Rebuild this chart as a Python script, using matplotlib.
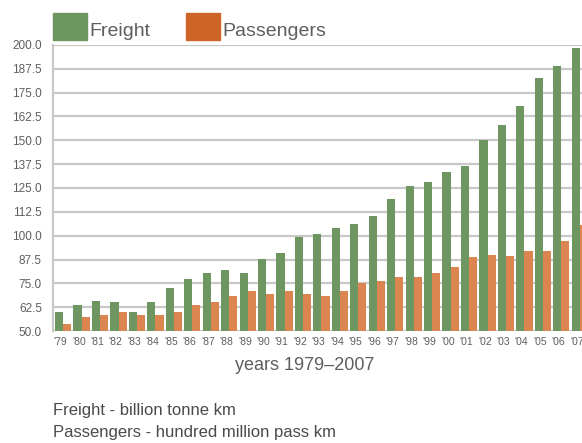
import matplotlib
matplotlib.use("Agg")
import matplotlib.pyplot as plt
from matplotlib.patches import Rectangle

# data
years = list(range(1979, 2008))
freight = [60.0, 63.7, 65.8, 65.3, 60.0, 65.3, 72.6, 77.4, 80.5, 82.0,
           80.5, 87.9, 91.0, 99.5, 101.0, 104.0, 106.3, 110.5, 119.3, 125.8,
           127.9, 133.4, 136.5, 150.2, 158.0, 168.0, 182.7, 189.0, 198.4]
passengers = [53.7, 57.4, 58.4, 60.0, 58.4, 58.4, 60.0, 63.7, 65.3, 68.4,
              71.0, 69.5, 71.0, 69.5, 68.4, 71.0, 75.3, 76.3, 78.4, 78.4,
              80.5, 83.7, 88.9, 90.0, 89.5, 92.0, 92.0, 97.4, 105.8]
tick_labels = ["'" + str(y)[2:] for y in years]
yticks = [50 + 12.5 * i for i in range(13)]

green = '#6e9660'
orange_bar = '#db8551'
orange_leg = '#cf6429'
txt = '#5e5e5e'

plt.rcParams['font.family'] = ['Liberation Sans', 'DejaVu Sans']

W, H = 582, 443
fig = plt.figure(figsize=(W / 100, H / 100), dpi=100)
ax = fig.add_axes([53 / W, 1 - 331 / H, 536 / W, 286 / H])

x = range(len(years))
bw = 0.44
ax.bar([i - bw / 2 for i in x], freight, width=bw, color=green, zorder=3)
ax.bar([i + bw / 2 for i in x], passengers, width=bw, color=orange_bar, zorder=3)

ax.set_xlim(-0.55, len(years) - 0.5)
ax.set_ylim(50, 200)
ax.set_yticks(yticks)
ax.set_yticklabels([f"{v:.1f}" for v in yticks], fontsize=8.5, color=txt)
ax.set_xticks([i - 0.15 for i in x])
ax.set_xticklabels(tick_labels, fontsize=7.5, color=txt)
ax.tick_params(length=0, pad=8)
ax.tick_params(axis='x', pad=4)
ax.grid(axis='y', color='#c8c8c8', linewidth=1.6, zorder=0)
ax.set_axisbelow(True)
for s in ['top', 'right', 'bottom']:
    ax.spines[s].set_visible(False)
ax.spines['left'].set_color('#c8c8c8')
ax.spines['left'].set_linewidth(1.6)

# legend boxes at top
fig.patches.append(Rectangle((53 / W, 1 - 40 / H), 34 / W, 27 / H,
                             transform=fig.transFigure, color=green))
fig.text(89 / W, 1 - 40 / H, "Freight", fontsize=14, color=txt, va='bottom')
fig.patches.append(Rectangle((186 / W, 1 - 40 / H), 34 / W, 27 / H,
                             transform=fig.transFigure, color=orange_leg))
fig.text(222 / W, 1 - 40 / H, "Passengers", fontsize=14, color=txt, va='bottom')

fig.text(305 / W, 1 - 366 / H, "years 1979\u20132007", fontsize=13,
         color=txt, ha='center', va='center')
fig.text(53 / W, 1 - 410 / H, "Freight - billion tonne km", fontsize=12,
         color='#4a4a4a', va='center')
fig.text(53 / W, 1 - 432 / H, "Passengers - hundred million pass km",
         fontsize=12, color='#4a4a4a', va='center')

fig.savefig("out.png", dpi=100)
